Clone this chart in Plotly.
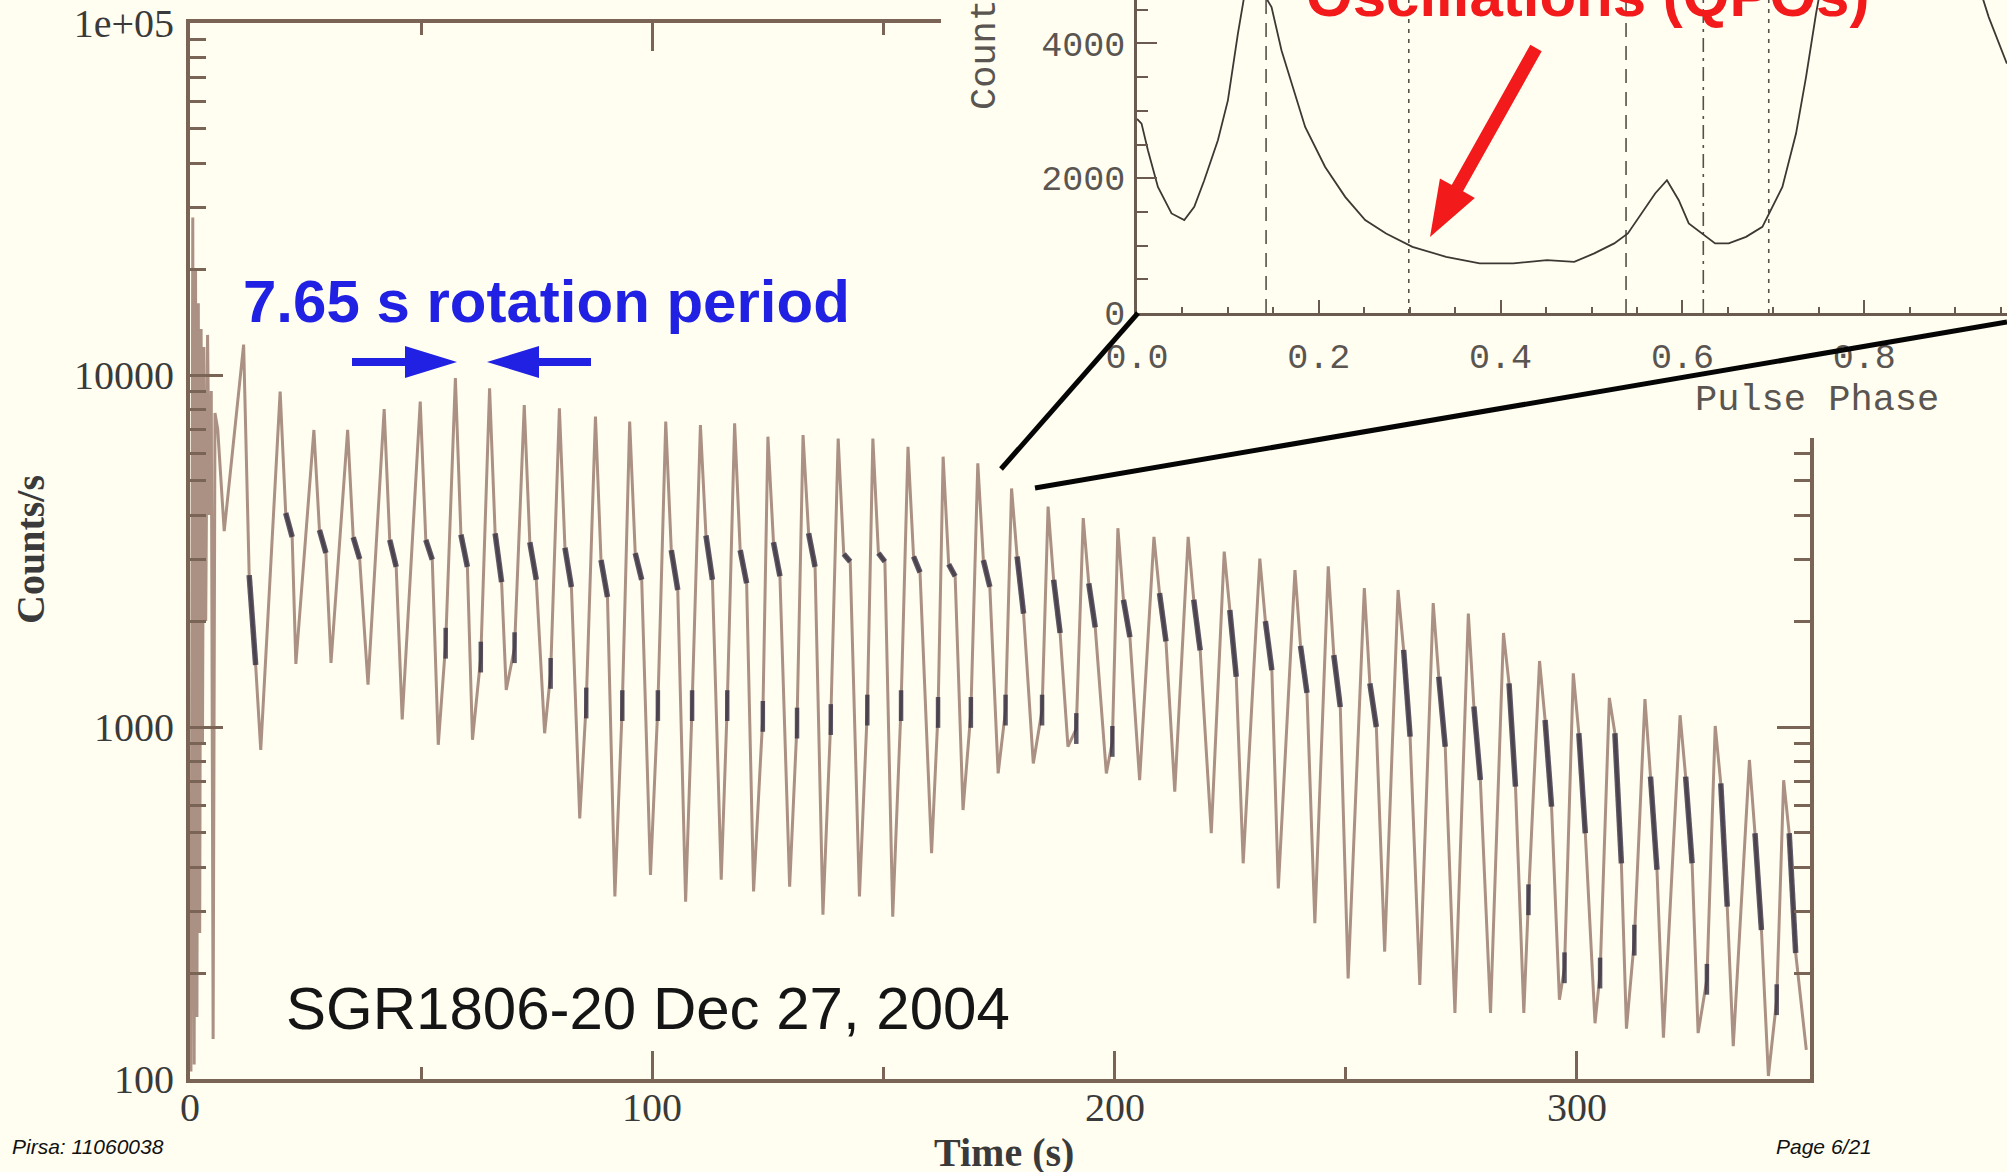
import plotly.graph_objects as go

W, H = 2007, 1172

# ---------------- light curve data ----------------
# saturated tail of the giant flare (s, counts/s)
burst_t = [0.2, 0.6, 0.9, 1.2, 1.5, 1.8, 2.1, 2.4, 2.7, 3.0, 3.4, 3.8, 4.2, 4.6, 5.0, 5.4, 6.0, 6.6, 7.4]
burst_c = [105, 28000, 110, 20000, 150, 16000, 260, 13500, 900, 12000, 2000, 13000, 4000, 9000, 130, 7800, 7000, 5200, 3600]

# one entry per 7.65 s rotation pulse
peak_t = [11.6, 19.5, 26.8, 34.1, 42.0, 49.8, 57.4, 64.8, 72.3, 79.9,
          87.7, 95.1, 102.9, 110.4, 117.8, 125.0, 132.6, 140.2, 147.7, 155.3,
          162.9, 170.4, 177.7, 185.6, 193.2, 200.7, 208.5, 215.9, 223.7, 231.4,
          239.0, 246.2, 254.0, 261.3, 268.9, 276.5, 284.1, 291.9, 299.2, 307.0,
          314.7, 322.3, 329.9, 337.3, 344.7]
peak_c = [12200, 8970, 6980, 6990, 8000, 8400, 9800, 9170, 8220, 8040,
          7620, 7380, 7380, 7210, 7290, 6680, 6750, 6600, 6600, 6250,
          5860, 5610, 4760, 4230, 3920, 3670, 3470, 3470, 3150, 3010,
          2790, 2860, 2480, 2450, 2250, 2100, 1850, 1540, 1420, 1210,
          1200, 1080, 1007, 806, 706]
# noisy shoulder on the decay of each pulse: upper and lower level
shoulder_hi = [2700, 4055, 3630, 3460, 3400, 3400, 3520, 3550, 3350, 3230,
               2980, 3120, 3180, 3500, 3180, 3350, 3550, 3100, 3120, 3050,
               2900, 2980, 3050, 2620, 2560, 2300, 2400, 2300, 2150, 2000,
               1700, 1600, 1330, 1656, 1390, 1143, 1330, 1047, 960, 960,
               723, 723, 692, 499, 499]
shoulder_lo = [1500, 3467, 3120, 3000, 2850, 2990, 2850, 2580, 2620, 2500,
               2340, 2620, 2450, 2620, 2560, 2680, 2850, 2950, 2950, 2750,
               2680, 2500, 2100, 1850, 1920, 1800, 1750, 1650, 1390, 1450,
               1250, 1140, 1000, 939, 879, 707, 677, 594, 499, 410,
               393, 410, 309, 265, 228]
trough_t = [15.3, 22.9, 30.5, 38.5, 45.9, 53.7, 61.1, 68.4, 76.7, 84.3,
            91.9, 99.6, 107.2, 114.9, 121.9, 129.7, 136.9, 144.8, 152.0, 160.4,
            167.2, 174.8, 182.4, 189.9, 198.2, 205.4, 213.0, 220.9, 227.8, 235.4,
            243.3, 250.5, 258.4, 266.0, 273.6, 281.3, 288.5, 296.2, 303.9, 310.7,
            318.7, 326.2, 333.8, 341.4, 349.6]
trough_c = [861, 1510, 1520, 1320, 1050, 890, 920, 1275, 960, 550,
            330, 380, 319, 368, 341, 352, 293, 330, 289, 438,
            581, 738, 788, 880, 738, 706, 655, 499, 410, 348,
            277, 193, 230, 185, 154, 154, 154, 168, 144, 139,
            131, 135, 124, 102, 121]
bump_t = [None, None, None, None, None, 55.3, 62.9, 70.2, 78.0, 85.7,
          93.5, 101.2, 108.6, 116.2, 123.9, 131.3, 138.6, 146.5, 153.8, 161.8,
          168.9, 176.4, 184.3, 191.7, 199.5, None, None, None, None, None,
          None, None, None, None, None, None, 289.5, 297.3, 305.0, 312.4,
          None, 328.1, None, 343.2, None]
bump_c = [None, None, None, None, None, 1730, 1580, 1680, 1420, 1170,
          1150, 1150, 1150, 1150, 1072, 1026, 1050, 1117, 1150, 1100,
          1100, 1117, 1117, 990, 910, None, None, None, None, None,
          None, None, None, None, None, None, 323, 207, 200, 248,
          None, 192, None, 168, None]
SHOULDER_START = 1.2  # s after a pulse maximum
SHOULDER_END = 2.6

time_ticks = [0, 100, 200, 300]
time_minor = [50, 150, 250]
count_ticks = [100, 1000, 10000, 100000]
count_labels = ["100", "1000", "10000", "1e+05"]

# ---------------- folded pulse profile (inset) ----------------
phase = [0.000, 0.005, 0.012, 0.023, 0.038, 0.052, 0.063, 0.074, 0.089, 0.100,
         0.111, 0.118, 0.130, 0.148, 0.159, 0.174, 0.185, 0.207, 0.229, 0.251,
         0.274, 0.303, 0.340, 0.377, 0.414, 0.451, 0.481, 0.503, 0.525, 0.540,
         0.555, 0.570, 0.583, 0.596, 0.607, 0.622, 0.636, 0.651, 0.670, 0.688,
         0.710, 0.725, 0.736, 0.747, 0.760, 0.820, 0.890, 0.925, 0.937, 0.957]
profile = [2880, 2810, 2415, 1871, 1477, 1378, 1575, 1970, 2563, 3155,
           4144, 4700, 4950, 4538, 3896, 3255, 2760, 2167, 1723, 1378,
           1180, 982, 834, 736, 736, 785, 760, 884, 1033, 1180,
           1477, 1773, 1970, 1674, 1329, 1180, 1033, 1033, 1130, 1279,
           1871, 2662, 3500, 4440, 5400, 7000, 6500, 4900, 4390, 3700]
phase_marks = [0.142, 0.299, 0.538, 0.623, 0.695]
phase_mark_dash = ["14px,9px", "4px,6px", "14px,9px", "14px,6px,3px,6px", "4px,6px"]
phase_ticks = [0.0, 0.2, 0.4, 0.6, 0.8]
phase_labels = ["0.0", "0.2", "0.4", "0.6", "0.8"]
profile_ticks = [0, 2000, 4000]

# ---------------- styling ----------------
BG = "#fffef1"
AXIS = "#7a6456"
CURVE = "#ab9183"
DARK = "rgba(52,48,66,0.8)"
BLUE = "#2121e3"
RED = "#f21a1a"
SERIF = "Liberation Serif"
SANS = "Liberation Sans"
MONO = "Liberation Mono"
LABEL = "#3a3a3a"


def fx(x):
    return x / W


def fy(y):
    return 1 - y / H


# assemble the light curve polyline from the pulse key points
lc_t, lc_c = list(burst_t), list(burst_c)
sh_t, sh_c, bp_t, bp_c = [], [], [], []
for k in range(len(peak_t)):
    t_hi = peak_t[k] + SHOULDER_START
    t_lo = peak_t[k] + SHOULDER_END
    lc_t += [peak_t[k], t_hi, t_lo, trough_t[k]]
    lc_c += [peak_c[k], shoulder_hi[k], shoulder_lo[k], trough_c[k]]
    sh_t += [t_hi, t_lo, None]
    sh_c += [shoulder_hi[k], shoulder_lo[k], None]
    if bump_c[k] is not None:
        lc_t.append(bump_t[k]); lc_c.append(bump_c[k])
        bp_t.append(bump_t[k]); bp_c.append(bump_c[k])

fig = go.Figure()

fig.add_trace(go.Scatter(x=lc_t, y=lc_c, mode="lines",
                         line=dict(color=CURVE, width=3), showlegend=False,
                         xaxis="x", yaxis="y"))
fig.add_trace(go.Scatter(x=sh_t, y=sh_c, mode="lines", connectgaps=False,
                         line=dict(color=DARK, width=5.5),
                         showlegend=False, xaxis="x", yaxis="y"))
fig.add_trace(go.Scatter(x=bp_t, y=bp_c, mode="markers",
                         marker=dict(symbol="line-ns", size=22,
                                     line=dict(color=DARK, width=4.5)),
                         showlegend=False, xaxis="x", yaxis="y"))

# blank panel that sits behind the inset
fig.add_trace(go.Scatter(x=[None], y=[None], mode="lines", showlegend=False,
                         xaxis="x2", yaxis="y2"))

# inset: folded pulse profile with phase markers
for v, d in zip(phase_marks, phase_mark_dash):
    fig.add_trace(go.Scatter(x=[v, v], y=[0, 4644], mode="lines",
                             line=dict(color="#555048", width=1.6, dash=d),
                             showlegend=False, xaxis="x3", yaxis="y3"))
fig.add_trace(go.Scatter(x=phase, y=profile, mode="lines",
                         line=dict(color="#3d3834", width=1.8),
                         showlegend=False, xaxis="x3", yaxis="y3"))

minor_counts = [m * d for d in (100, 1000, 10000) for m in range(2, 10)]

fig.update_layout(
    width=W, height=H,
    margin=dict(l=0, r=0, t=0, b=0, pad=0, autoexpand=False),
    paper_bgcolor=BG, plot_bgcolor=BG,
    showlegend=False,
    xaxis=dict(domain=[fx(190), fx(1810)], range=[0, 350.4], anchor="y",
               automargin=False, showticklabels=False,
               tickvals=time_ticks,
               ticks="inside", ticklen=28, tickwidth=2.5, tickcolor=AXIS,
               minor=dict(tickvals=time_minor, ticks="inside", ticklen=12,
                          tickwidth=2.5, tickcolor=AXIS),
               showline=True, linewidth=4, linecolor=AXIS, mirror="ticks",
               showgrid=False, zeroline=False),
    yaxis=dict(domain=[fy(1079), fy(23)], type="log", range=[2, 5], anchor="x",
               automargin=False,
               tickvals=count_ticks, ticktext=count_labels,
               ticks="inside", ticklen=33, tickwidth=2.5, tickcolor=AXIS,
               minor=dict(tickvals=minor_counts, ticks="inside", ticklen=16,
                          tickwidth=2.5, tickcolor=AXIS),
               showline=True, linewidth=4, linecolor=AXIS, mirror="ticks",
               showgrid=False, zeroline=False,
               tickfont=dict(family=SERIF, size=40, color=LABEL),
               ticklabelstandoff=4),
    xaxis2=dict(domain=[fx(941), 1], range=[0, 1], anchor="y2", visible=False,
                automargin=False),
    yaxis2=dict(domain=[fy(438), 1], range=[0, 1], anchor="x2", visible=False,
                automargin=False),
    xaxis3=dict(domain=[fx(1137), 1], range=[0, 870 / 909], anchor="y3",
                automargin=False,
                tickvals=phase_ticks, ticktext=phase_labels,
                ticks="inside", ticklen=13, tickwidth=2, tickcolor="#6b5a4f",
                minor=dict(dtick=0.05, ticks="inside", ticklen=6, tickwidth=2,
                           tickcolor="#6b5a4f"),
                showline=True, linewidth=2.5, linecolor="#6b5a4f",
                showgrid=False, zeroline=False,
                tickfont=dict(family=MONO, size=35, color="#5a5550"),
                ticklabelstandoff=10),
    yaxis3=dict(domain=[fy(313), 1], range=[0, 4644], anchor="x3",
                automargin=False,
                tickvals=profile_ticks, ticktext=[str(v) for v in profile_ticks],
                ticks="inside", ticklen=20, tickwidth=2, tickcolor="#6b5a4f",
                minor=dict(dtick=500, ticks="inside", ticklen=11, tickwidth=2,
                           tickcolor="#6b5a4f"),
                showline=True, linewidth=2.5, linecolor="#6b5a4f",
                showgrid=False, zeroline=False,
                tickfont=dict(family=MONO, size=35, color="#5a5550"),
                ticklabelstandoff=2),
)


def arrow_path(tail, tip, shaft_w, head_len, head_w):
    (x0, y0), (x1, y1) = tail, tip
    dx, dy = x1 - x0, y1 - y0
    length = (dx * dx + dy * dy) ** 0.5
    ux, uy = dx / length, dy / length
    nx, ny = -uy, ux
    bx, by = x1 - ux * head_len, y1 - uy * head_len
    pts = [
        (x0 + nx * shaft_w / 2, y0 + ny * shaft_w / 2),
        (bx + nx * shaft_w / 2, by + ny * shaft_w / 2),
        (bx + nx * head_w / 2, by + ny * head_w / 2),
        (x1, y1),
        (bx - nx * head_w / 2, by - ny * head_w / 2),
        (bx - nx * shaft_w / 2, by - ny * shaft_w / 2),
        (x0 - nx * shaft_w / 2, y0 - ny * shaft_w / 2),
    ]
    return "M " + " L ".join(f"{fx(x):.5f},{fy(y):.5f}" for x, y in pts) + " Z"


shapes = [
    # zoom-in connector lines
    dict(type="line", xref="paper", yref="paper", x0=fx(1001), y0=fy(469),
         x1=fx(1138), y1=fy(313), line=dict(color="#050505", width=5), layer="above"),
    dict(type="line", xref="paper", yref="paper", x0=fx(1035), y0=fy(488),
         x1=fx(2007), y1=fy(322), line=dict(color="#050505", width=5), layer="above"),
    # period arrows
    dict(type="path", xref="paper", yref="paper", layer="above",
         path=arrow_path((352, 362), (457, 362), 8, 52, 32),
         fillcolor=BLUE, line=dict(width=0)),
    dict(type="path", xref="paper", yref="paper", layer="above",
         path=arrow_path((591, 362), (487, 362), 8, 52, 32),
         fillcolor=BLUE, line=dict(width=0)),
    # QPO pointer
    dict(type="path", xref="paper", yref="paper", layer="above",
         path=arrow_path((1536, 48), (1430, 237), 13, 56, 40),
         fillcolor=RED, line=dict(width=0)),
]
fig.update_layout(shapes=shapes)

annotations = [
    dict(text="<b>7.65 s rotation period</b>", x=fx(546), y=fy(301),
         font=dict(family=SANS, size=60, color=BLUE)),
    dict(text="SGR1806-20 Dec 27, 2004", x=fx(648), y=fy(1008),
         font=dict(family=SANS, size=60, color="#151515")),
    dict(text="<b>Oscillations (QPOs)</b>", x=fx(1587), y=fy(-4),
         font=dict(family=SANS, size=60, color=RED)),
    dict(text="<b>Counts/s</b>", x=fx(30), y=fy(550), textangle=-90,
         font=dict(family=SERIF, size=40, color=LABEL)),
    dict(text="<b>Time (s)</b>", x=fx(1004), y=fy(1152),
         font=dict(family=SERIF, size=40, color=LABEL)),
    dict(text="Counts", x=fx(985), y=fy(44), textangle=-90,
         font=dict(family=MONO, size=37, color="#5a5550")),
    dict(text="Pulse Phase", x=fx(1817), y=fy(400),
         font=dict(family=MONO, size=37, color="#5a5550")),
    dict(text="<i>Pirsa: 11060038</i>", x=fx(10), y=fy(1146), xanchor="left",
         font=dict(family=SANS, size=21, color="#111111")),
    dict(text="<i>Page 6/21</i>", x=fx(1774), y=fy(1146), xanchor="left",
         font=dict(family=SANS, size=21, color="#111111")),
]
for a in annotations:
    a.setdefault("xanchor", "center")
    a.update(xref="paper", yref="paper", yanchor="middle", showarrow=False)

# time tick labels, placed just under the bottom axis
for v in time_ticks:
    annotations.append(dict(text=str(v), x=v, xref="x", y=fy(1107), yref="paper",
                            xanchor="center", yanchor="middle", showarrow=False,
                            font=dict(family=SERIF, size=40, color=LABEL)))
fig.update_layout(annotations=annotations)

fig.write_html("out.html")
